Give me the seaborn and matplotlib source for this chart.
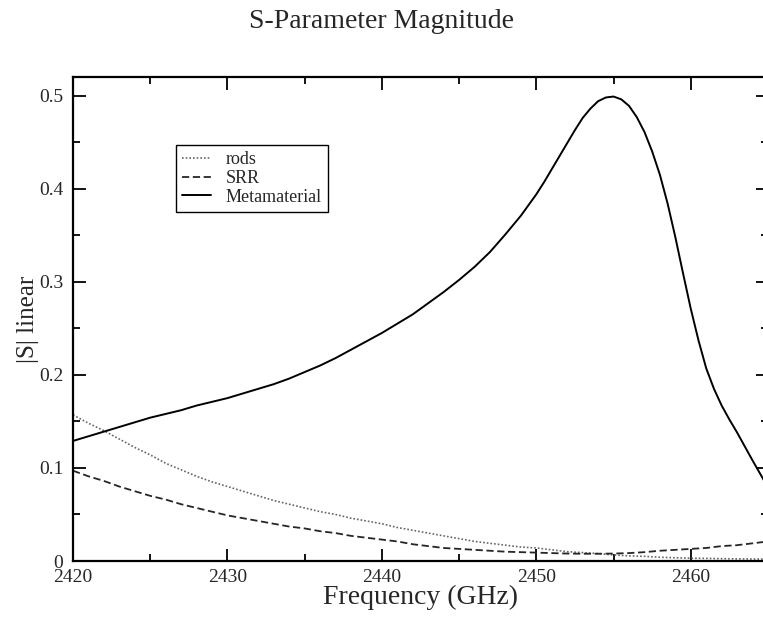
import matplotlib
matplotlib.use('Agg')
import matplotlib.pyplot as plt
import seaborn as sns
from matplotlib.ticker import MultipleLocator

# frequency grid (GHz) and |S| values
freq = list(range(2420, 2466))

rods = [0.157, 0.148, 0.140, 0.131, 0.122, 0.114, 0.105, 0.098, 0.091, 0.085,
        0.080, 0.075, 0.070, 0.065, 0.061, 0.057, 0.053, 0.050, 0.046, 0.043,
        0.040, 0.036, 0.033, 0.030, 0.027, 0.024, 0.021, 0.019, 0.017, 0.015,
        0.014, 0.012, 0.010, 0.009, 0.008, 0.0065, 0.0055, 0.005, 0.004, 0.0035,
        0.003, 0.0028, 0.0025, 0.0023, 0.0021, 0.002]

srr = [0.097, 0.091, 0.086, 0.080, 0.075, 0.070, 0.066, 0.061, 0.057, 0.053,
       0.049, 0.046, 0.043, 0.040, 0.037, 0.035, 0.032, 0.030, 0.027, 0.025,
       0.023, 0.021, 0.018, 0.016, 0.014, 0.013, 0.012, 0.011, 0.010, 0.0095,
       0.009, 0.0085, 0.008, 0.0078, 0.0078, 0.008, 0.0085, 0.0095, 0.011, 0.012,
       0.013, 0.014, 0.016, 0.017, 0.019, 0.021]

# metamaterial is read on a finer grid around the resonance
freq_meta = [2420, 2421, 2422, 2423, 2424, 2425, 2426, 2427, 2428, 2429,
             2430, 2431, 2432, 2433, 2434, 2435, 2436, 2437, 2438, 2439,
             2440, 2441, 2442, 2443, 2444, 2445, 2446, 2447, 2448, 2449,
             2450, 2450.5, 2451, 2451.5, 2452, 2452.5, 2453, 2453.5, 2454, 2454.5,
             2455, 2455.5, 2456, 2456.5, 2457, 2457.5, 2458, 2458.5, 2459, 2459.5,
             2460, 2460.5, 2461, 2461.5, 2462, 2462.5, 2463, 2464, 2465]

meta = [0.129, 0.134, 0.139, 0.144, 0.149, 0.154, 0.158, 0.162, 0.167, 0.171,
        0.175, 0.180, 0.185, 0.190, 0.196, 0.203, 0.210, 0.218, 0.227, 0.236,
        0.245, 0.255, 0.265, 0.277, 0.289, 0.302, 0.316, 0.332, 0.351, 0.371,
        0.394, 0.407, 0.421, 0.435, 0.449, 0.463, 0.476, 0.486, 0.494, 0.498,
        0.499, 0.496, 0.489, 0.477, 0.461, 0.440, 0.415, 0.384, 0.348, 0.309,
        0.271, 0.237, 0.207, 0.185, 0.167, 0.152, 0.138, 0.108, 0.079]

sns.set_style('ticks')
plt.rcParams['font.family'] = ['Liberation Serif', 'DejaVu Serif']

fig = plt.figure(figsize=(7.63, 6.19), dpi=100)
ax = fig.add_axes([73 / 763, 58 / 619, 695 / 763, 484 / 619])

sns.lineplot(x=freq, y=rods, ax=ax, color='0.4', lw=1.2, linestyle=(0, (1, 1.2)), label='rods')
sns.lineplot(x=freq, y=srr, ax=ax, color='0.15', lw=1.3, linestyle=(0, (4, 2)), label='SRR')
sns.lineplot(x=freq_meta, y=meta, ax=ax, color='black', lw=1.4, label='Metamaterial')

ax.set_xlim(2420, 2465)
ax.set_ylim(0, 0.52)
ax.xaxis.set_major_locator(MultipleLocator(10))
ax.xaxis.set_minor_locator(MultipleLocator(5))
ax.yaxis.set_minor_locator(MultipleLocator(0.05))
ax.set_yticks([0, 0.1, 0.2, 0.3, 0.4, 0.5])
ax.set_yticklabels(['0', '0.1', '0.2', '0.3', '0.4', '0.5'])

ax.tick_params(which='both', direction='in', top=True, right=True, width=1.3, color='black')
ax.tick_params(which='major', length=9, labelsize=14)
ax.tick_params(which='minor', length=5)
ax.tick_params(axis='x', which='major', pad=6)
ax.tick_params(axis='y', which='major', pad=7)
for s in ax.spines.values():
    s.set_linewidth(1.6)
    s.set_color('black')

ax.set_xlabel('Frequency (GHz)', fontsize=20, labelpad=-1)
ax.set_ylabel('|S| linear', fontsize=18, labelpad=0)
fig.text(0.5, 1 - 22 / 619, 'S-Parameter Magnitude', fontsize=20, ha='center', va='center')

leg = ax.legend(loc='upper left', bbox_to_anchor=(0.148, 0.86), borderaxespad=0,
                fontsize=13, frameon=True, fancybox=False, handlelength=1.6,
                handletextpad=0.8, labelspacing=0.1, borderpad=0.35)
leg.get_frame().set_edgecolor('black')
leg.get_frame().set_linewidth(1.0)
leg.get_frame().set_alpha(1)

fig.savefig('out.png', dpi=100)
